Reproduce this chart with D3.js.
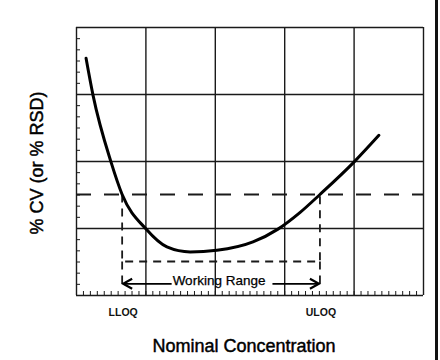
<!DOCTYPE html>
<html>
<head>
<meta charset="utf-8">
<script src="https://cdn.jsdelivr.net/npm/d3@7"></script>
<style>
  html, body { margin: 0; padding: 0; background: #fff; }
  svg { display: block; font-family: "Liberation Sans", Arial, sans-serif; }
</style>
</head>
<body>
<svg id="chart" width="440" height="360"></svg>
<script>
// ---- data ----
const curveX = [2.9, 4.9, 10.1, 13.3, 20.2, 26.2, 32.9, 40.6, 51.0, 58.2, 64.6, 70.3, 80.1, 87.3];
const curveY = [21.2, 17.9, 11.9, 9.0, 5.9, 4.3, 3.85, 4.0, 4.75, 5.9, 7.4, 9.0, 11.9, 14.3];
const acceptLimit = 9;          // dashed horizontal limit
const lloq = 13.3;              // lower limit of quantitation
const uloq = 70.3;              // upper limit of quantitation
const rangeFloor = 3;           // short-dashed floor of working range box
const arrowLevel = 1;           // level of working range arrows
const xMajor = [0, 20, 40, 60, 80, 100];
const yMajor = [0, 6, 12, 18, 24];
const xLabels = ["LLOQ", "ULOQ"];
const xTitle = "Nominal Concentration";
const yTitle = "% CV (or % RSD)";
const rangeLabel = "Working Range";

// ---- layout ----
const svg = d3.select("#chart");
const L = 76, R = 423, T = 27, B = 295;
const x = d3.scaleLinear().domain([0, 100]).range([L, R]);
const y = d3.scaleLinear().domain([0, 24]).range([B, T]);
const ink = "#1a1a1a";

// minor ticks
const xMinor = d3.range(0, 100.001, 2);
const yMinor = d3.range(0, 24.001, 1);
svg.append("g").attr("transform", `translate(0,${B})`)
  .call(d3.axisBottom(x).tickValues(xMinor).tickSize(-4).tickFormat(""))
  .call(g => g.select(".domain").remove())
  .call(g => g.selectAll("line").attr("stroke", ink).attr("stroke-width", 1));
svg.append("g").attr("transform", `translate(${L},0)`)
  .call(d3.axisLeft(y).tickValues(yMinor).tickSize(-4).tickFormat(""))
  .call(g => g.select(".domain").remove())
  .call(g => g.selectAll("line").attr("stroke", ink).attr("stroke-width", 1));

// grid
svg.append("g").attr("transform", `translate(0,${B})`)
  .call(d3.axisBottom(x).tickValues(xMajor).tickSize(-(B - T)).tickFormat(""))
  .call(g => g.select(".domain").remove())
  .call(g => g.selectAll("line").attr("stroke", ink).attr("stroke-width", 1.4));
svg.append("g").attr("transform", `translate(${L},0)`)
  .call(d3.axisLeft(y).tickValues(yMajor).tickSize(-(R - L)).tickFormat(""))
  .call(g => g.select(".domain").remove())
  .call(g => g.selectAll("line").attr("stroke", ink).attr("stroke-width", 1.4));

// right edge border of image
svg.append("rect").attr("x", 435).attr("y", 0).attr("width", 3).attr("height", 360).attr("fill", "#111");

// long-dashed acceptance limit
svg.append("line")
  .attr("x1", x(0)).attr("x2", x(100)).attr("y1", y(acceptLimit)).attr("y2", y(acceptLimit))
  .attr("stroke", ink).attr("stroke-width", 2).attr("stroke-dasharray", "15,13");

// working range box (short dashes)
const boxPath = d3.path();
boxPath.moveTo(x(lloq), y(acceptLimit));
boxPath.lineTo(x(lloq), y(rangeFloor));
boxPath.lineTo(x(uloq), y(rangeFloor));
boxPath.lineTo(x(uloq), y(acceptLimit));
svg.append("path").attr("d", boxPath.toString())
  .attr("fill", "none").attr("stroke", ink).attr("stroke-width", 1.8).attr("stroke-dasharray", "8,6");
[lloq, uloq].forEach(v => {
  svg.append("line")
    .attr("x1", x(v)).attr("x2", x(v)).attr("y1", y(rangeFloor)).attr("y2", y(arrowLevel) + 5)
    .attr("stroke", ink).attr("stroke-width", 1.8).attr("stroke-dasharray", "8,6");
});

// curve
const pts = curveX.map((d, i) => [d, curveY[i]]);
svg.append("path").datum(pts)
  .attr("d", d3.line().x(d => x(d[0])).y(d => y(d[1])).curve(d3.curveMonotoneX))
  .attr("fill", "none").attr("stroke", "#000").attr("stroke-width", 3).attr("stroke-linecap", "round");

// working range label and arrows
const midX = (x(lloq) + x(uloq)) / 2 - 2;
const ay = y(arrowLevel);
const lbl = svg.append("text").attr("x", midX).attr("y", ay + 1)
  .attr("text-anchor", "middle").attr("font-size", 13.5).attr("fill", "#000")
  .attr("stroke", "#000").attr("stroke-width", 0.25).text(rangeLabel);
const bb = lbl.node().getBBox();
svg.append("line").attr("x1", bb.x - 1).attr("x2", x(lloq) + 1).attr("y1", ay).attr("y2", ay)
  .attr("stroke", "#000").attr("stroke-width", 1.8);
svg.append("line").attr("x1", bb.x + bb.width + 7).attr("x2", x(uloq) - 1).attr("y1", ay).attr("y2", ay)
  .attr("stroke", "#000").attr("stroke-width", 1.8);
svg.append("path")
  .attr("d", `M${x(lloq) + 10},${ay - 5}L${x(lloq) + 1},${ay}L${x(lloq) + 10},${ay + 5}`)
  .attr("fill", "none").attr("stroke", "#000").attr("stroke-width", 2.2);
svg.append("path")
  .attr("d", `M${x(uloq) - 10},${ay - 5}L${x(uloq) - 1},${ay}L${x(uloq) - 10},${ay + 5}`)
  .attr("fill", "none").attr("stroke", "#000").attr("stroke-width", 2.2);

// LLOQ / ULOQ labels
[lloq, uloq].forEach((v, i) => {
  svg.append("text").attr("x", x(v) + 1).attr("y", B + 21)
    .attr("text-anchor", "middle").attr("font-size", 10.5).attr("font-weight", "bold")
    .attr("fill", "#111").text(xLabels[i]);
});

// axis titles
svg.append("text").attr("x", 244).attr("y", 352)
  .attr("text-anchor", "middle").attr("font-size", 18).attr("fill", "#000")
  .attr("stroke", "#000").attr("stroke-width", 0.45).text(xTitle);
svg.append("text").attr("transform", `translate(43,163) rotate(-90)`)
  .attr("text-anchor", "middle").attr("font-size", 18).attr("fill", "#000")
  .attr("stroke", "#000").attr("stroke-width", 0.45).text(yTitle);
</script>
</body>
</html>
